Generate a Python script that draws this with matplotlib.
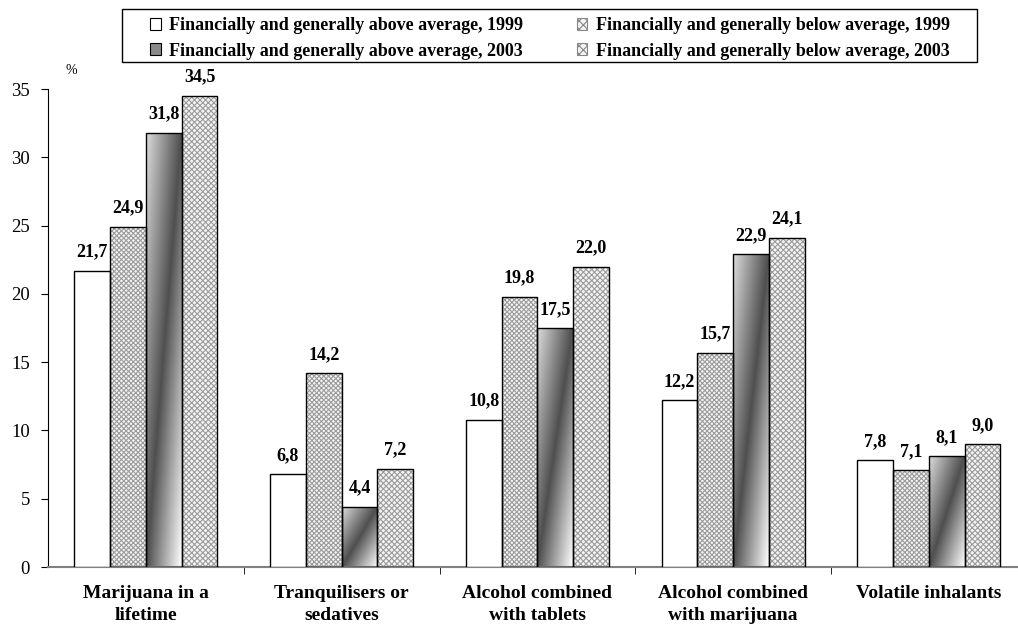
import numpy as np
import matplotlib
matplotlib.use("Agg")
import matplotlib.pyplot as plt
from matplotlib.patches import Patch, Rectangle
from matplotlib.colors import LinearSegmentedColormap

plt.rcParams['font.family'] = ['Liberation Serif', 'DejaVu Serif']
plt.rcParams['hatch.linewidth'] = 0.8

# ---------------------------------------------------------
# data
# ---------------------------------------------------------
categories = ["Marijuana in a\nlifetime", "Tranquilisers or\nsedatives",
              "Alcohol combined\nwith tablets", "Alcohol combined\nwith marijuana",
              "Volatile inhalants"]
above_1999 = [21.7, 6.8, 10.8, 12.2, 7.8]
below_1999 = [24.9, 14.2, 19.8, 15.7, 7.1]
above_2003 = [31.8, 4.4, 17.5, 22.9, 8.1]
below_2003 = [34.5, 7.2, 22.0, 24.1, 9.0]
series_names = ["Financially and generally above average, 1999",
                "Financially and generally below average, 1999",
                "Financially and generally above average, 2003",
                "Financially and generally below average, 2003"]
series = [above_1999, below_1999, above_2003, below_2003]

# ---------------------------------------------------------
# figure
# ---------------------------------------------------------
W, H = 1018, 631
fig = plt.figure(figsize=(W/100, H/100), dpi=100)
ax = fig.add_axes([48/W, 1-567/H, 970/W, (567-89)/H])

x = np.arange(len(categories))
w = 0.1826
grad_cmap = LinearSegmentedColormap.from_list(
    "grad", [(0, "#dcdcdc"), (0.5, "#4f4f4f"), (1, "#ffffff")])

# gradiente diagonal en coordenadas normalizadas de la barra
u, v = np.meshgrid(np.linspace(0, 1, 60), np.linspace(0, 1, 200))
grad = (u + v) / 2

HATCH_FC, HATCH_EC = "#f4f4f4", "#9c9c9c"

for i, vals in enumerate(series):
    xs = x + (i - 1.5) * w
    for xi, h in zip(xs, vals):
        x0 = xi - w/2
        if i == 0:
            ax.add_patch(Rectangle((x0, 0), w, h, facecolor="white",
                                   edgecolor="black", lw=1.0, zorder=3))
        elif i == 2:
            rect = Rectangle((x0, 0), w, h, facecolor="none",
                             edgecolor="none", zorder=2)
            ax.add_patch(rect)
            im = ax.imshow(grad, cmap=grad_cmap, extent=(x0, x0 + w, 0, h),
                           origin="upper", aspect="auto", zorder=2,
                           interpolation="bilinear")
            im.set_clip_path(rect)
            ax.add_patch(Rectangle((x0, 0), w, h, fill=False,
                                   edgecolor="black", lw=1.0, zorder=3))
        else:
            hatch = "xxxxxxx" if i == 1 else "xxxxxx"
            ax.add_patch(Rectangle((x0, 0), w, h, facecolor=HATCH_FC,
                                   edgecolor=HATCH_EC, hatch=hatch, lw=0,
                                   zorder=2))
            ax.add_patch(Rectangle((x0, 0), w, h, fill=False,
                                   edgecolor="black", lw=1.0, zorder=3))
        ax.text(xi, h + 0.75, f"{h:.1f}".replace(".", ","), ha="center",
                va="bottom", fontsize=13, fontweight="bold")

ax.set_xlim(-0.5, 4.455)
ax.set_ylim(0, 35)

ax.spines["top"].set_visible(False)
ax.spines["right"].set_visible(False)
ax.spines["bottom"].set_color("#808080")
ax.spines["bottom"].set_linewidth(1.5)

ax.set_yticks(range(0, 36, 5))
ax.tick_params(axis="y", labelsize=13.5, length=5, direction="out", pad=8)
ax.set_xticks(x)
ax.set_xticklabels(categories, fontsize=14, fontweight="bold", linespacing=1.4)
ax.set_xticks(np.arange(0.5, 4.5, 1), minor=True)
ax.tick_params(axis="x", which="major", length=0, pad=13)
ax.tick_params(axis="x", which="minor", length=5, direction="out")
ax.text(-0.41, 36.1, "%", fontsize=10)

# leyenda (marco dibujado aparte)
handles = [
    Patch(facecolor="white", edgecolor="black", lw=0.8),
    Patch(facecolor=HATCH_FC, edgecolor="#888888", hatch="xxxx", lw=0.8),
    Patch(facecolor="#8a8a8a", edgecolor="black", lw=0.8),
    Patch(facecolor=HATCH_FC, edgecolor="#888888", hatch="xxxx", lw=0.8),
]
order = [0, 2, 1, 3]
fig.legend([handles[k] for k in order], [series_names[k] for k in order],
           ncol=2, loc="center", bbox_to_anchor=(550/W, 1-38.5/H),
           frameon=False, prop={"weight": "bold", "size": 13},
           handlelength=0.6, handleheight=0.6, handletextpad=0.45,
           columnspacing=2.95, borderpad=0, borderaxespad=0, labelspacing=0.45)
fig.patches.append(Rectangle((122/W, 1-62/H), 855/W, 53/H, fill=False,
                             edgecolor="black", lw=1.0,
                             transform=fig.transFigure, figure=fig))

fig.savefig("out.png", dpi=100)
